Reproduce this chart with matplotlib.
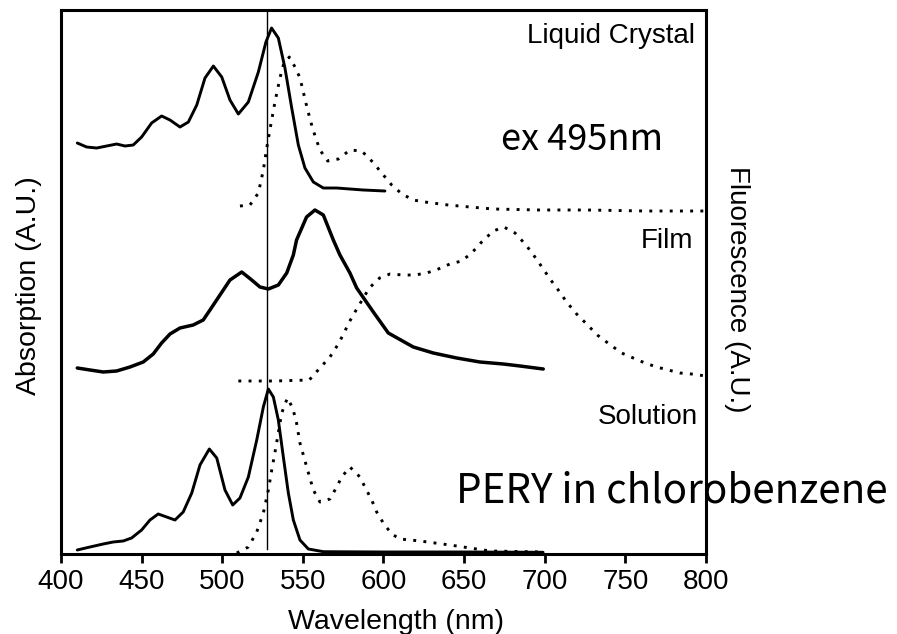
import matplotlib.pyplot as plt

plt.rcParams['font.family'] = ['Liberation Sans', 'DejaVu Sans']

# wavelengths (nm) and stacked intensities (arbitrary units, offset per sample)
lc_abs_x = [410.1, 415.9, 422.1, 428.3, 434.5, 439.7, 444.8, 450, 456.2, 462.4, 467.6,
            473.8, 479, 484.2, 489.3, 494.5, 499.7, 504.8, 510, 516.2, 522.4, 527.1,
            530.6, 534.8, 538.9, 543.1, 547.2, 551.3, 556.5, 562.7, 571, 587.5, 600.9]
lc_abs_y = [411, 407, 406, 408, 410, 408, 409, 417, 431, 438, 434,
            427, 432, 449, 476, 488, 477, 454, 440, 452, 482, 512,
            526, 516, 486, 446, 409, 386, 372, 366, 366, 364, 363]

lc_fl_x = [511, 517.2, 522.4, 525.5, 527.6, 530.1, 532.7, 535.8, 537.9, 541.6, 545.5,
           548.2, 550.3, 551.9, 553.8, 555.8, 558, 560.6, 565.4, 572, 579.2, 586.5,
           593.3, 598.9, 605.1, 611.5, 618.5, 625.7, 640.2, 653.6, 668.1, 697, 726,
           763.2, 800]
lc_fl_y = [348, 349, 361, 384, 406, 429, 452, 476, 489, 497, 486,
           476, 462, 451, 439, 427, 416, 404, 393, 395, 404, 403,
           392, 381, 369, 360, 354, 352, 349, 347, 345, 344, 344,
           343, 343]

film_abs_x = [410.1, 418, 426.2, 434.5, 442.8, 451, 457.2, 462.4, 467.6, 473.8, 482,
              488.2, 492.4, 498.6, 504.8, 512.1, 518.3, 523.4, 528.6, 534.8, 540,
              544.1, 546.1, 552.3, 557.5, 562.7, 568.9, 573, 579.2, 583.4, 593.7,
              603, 618.5, 630.9, 645.4, 659.8, 674.3, 684.7, 699.1]
film_abs_y = [186, 184, 182, 183, 187, 192, 200, 211, 220, 226, 229,
              234, 244, 259, 274, 282, 274, 267, 265, 269, 281,
              299, 314, 337, 344, 339, 314, 299, 281, 266, 242,
              221, 207, 201, 196, 192, 190, 188, 185]

film_fl_x = [510, 532, 554, 560.6, 566.8, 572, 575.5, 578.8, 582.7, 591.2, 597.6,
             604, 612.3, 619.5, 626.8, 634, 641.2, 648.5, 654.7, 660.9, 668.1, 674.7,
             681.6, 688.4, 693.5, 698.7, 703.3, 708.4, 713.6, 719.8, 726, 732.6, 740,
             747.7, 754.9, 762.2, 769.4, 776.6, 783.9, 791.1, 800]
film_fl_y = [173, 173, 174, 186, 197, 210, 221, 232, 243, 266, 276,
             280, 279, 279, 281, 285, 290, 293, 301, 312, 323, 327,
             321, 309, 298, 286, 275, 264, 252, 240, 230, 219, 210,
             201, 196, 191, 187, 184, 181, 180, 178]

sol_abs_x = [410.1, 418, 426.2, 432.4, 438.6, 443.8, 450, 455.2, 460.3, 465.5, 470.7,
             475.8, 481.1, 486.2, 492, 496.6, 501.7, 506.5, 511, 516.2, 521.4, 525.5,
             528.6, 531.7, 534.8, 537.9, 541, 544.1, 548.2, 553.4, 562.7, 600, 650, 699]
sol_abs_y = [4, 7, 10, 12, 13, 16, 24, 34, 40, 37, 34,
             42, 61, 89, 105, 96, 64, 49, 56, 77, 114, 147,
             165, 157, 134, 97, 61, 34, 14, 5, 2.3, 2, 2, 1.7]

sol_fl_x = [509, 516.2, 521.4, 525.5, 528.6, 530.7, 533.3, 535.4, 536.9, 540.4, 543.7,
            546.1, 548.2, 552.4, 556.5, 560.6, 566.8, 571, 574.1, 579.2, 585.4, 588.5,
            592.7, 595.8, 599.9, 605.1, 610.2, 622.6, 641.2, 666, 699]
sol_fl_y = [1, 7, 22, 41, 64, 84, 107, 127, 141, 156, 146,
            131, 111, 87, 64, 52, 55, 67, 77, 87, 77, 67,
            54, 42, 31, 20, 15, 13, 9, 3, 2]

xticks = [400, 450, 500, 550, 600, 650, 700, 750, 800]
line_nm = 528


def main():
    fig = plt.figure(figsize=(8.97, 6.34), dpi=100)
    ax = fig.add_axes([0.068, 0.1262, 0.719, 0.858])

    dot = (0, (1, 2.5))
    solid = dict(color='black', solid_joinstyle='round', solid_capstyle='round')
    ax.plot(lc_abs_x, lc_abs_y, lw=2.1, **solid)
    ax.plot(lc_fl_x, lc_fl_y, color='black', lw=2.1, ls=dot)
    ax.plot(film_abs_x, film_abs_y, lw=2.5, **solid)
    ax.plot(film_fl_x, film_fl_y, color='black', lw=2.1, ls=dot)
    ax.plot(sol_abs_x, sol_abs_y, lw=2.1, **solid)
    ax.plot(sol_fl_x, sol_fl_y, color='black', lw=2.1, ls=dot)
    ax.plot([line_nm, line_nm], [5, 544], color='black', lw=1.0)

    ax.set_xlim(400, 800)
    ax.set_ylim(0, 544)
    ax.set_xticks(xticks)
    ax.set_yticks([])
    ax.tick_params(axis='x', direction='out', length=6.5, width=2, labelsize=20, pad=4)
    for s in ax.spines.values():
        s.set_linewidth(2.2)

    ax.text(793, 511, 'Liquid Crystal', ha='right', va='baseline', fontsize=20)
    ax.text(792, 306, 'Film', ha='right', va='baseline', fontsize=20)
    ax.text(795, 130, 'Solution', ha='right', va='baseline', fontsize=20)
    ax.text(673, 404, 'ex 495nm', ha='left', va='baseline', fontsize=26,
            family=['Noto Sans CJK JP', 'DejaVu Sans'])
    ax.text(645, 51, 'PERY in chlorobenzene', ha='left', va='baseline', fontsize=29,
            family=['Noto Sans CJK JP', 'DejaVu Sans'])

    fig.text(0.032, 0.55, 'Absorption (A.U.)', rotation=90, ha='center', va='center', fontsize=20.5)
    fig.text(0.8216, 0.5434, 'Fluorescence (A.U.)', rotation=-90, ha='center', va='center', fontsize=20)
    fig.text(0.4415, 0.019, 'Wavelength (nm)', ha='center', va='center', fontsize=20.5)

    fig.savefig('out.png', dpi=100)


if __name__ == '__main__':
    main()
